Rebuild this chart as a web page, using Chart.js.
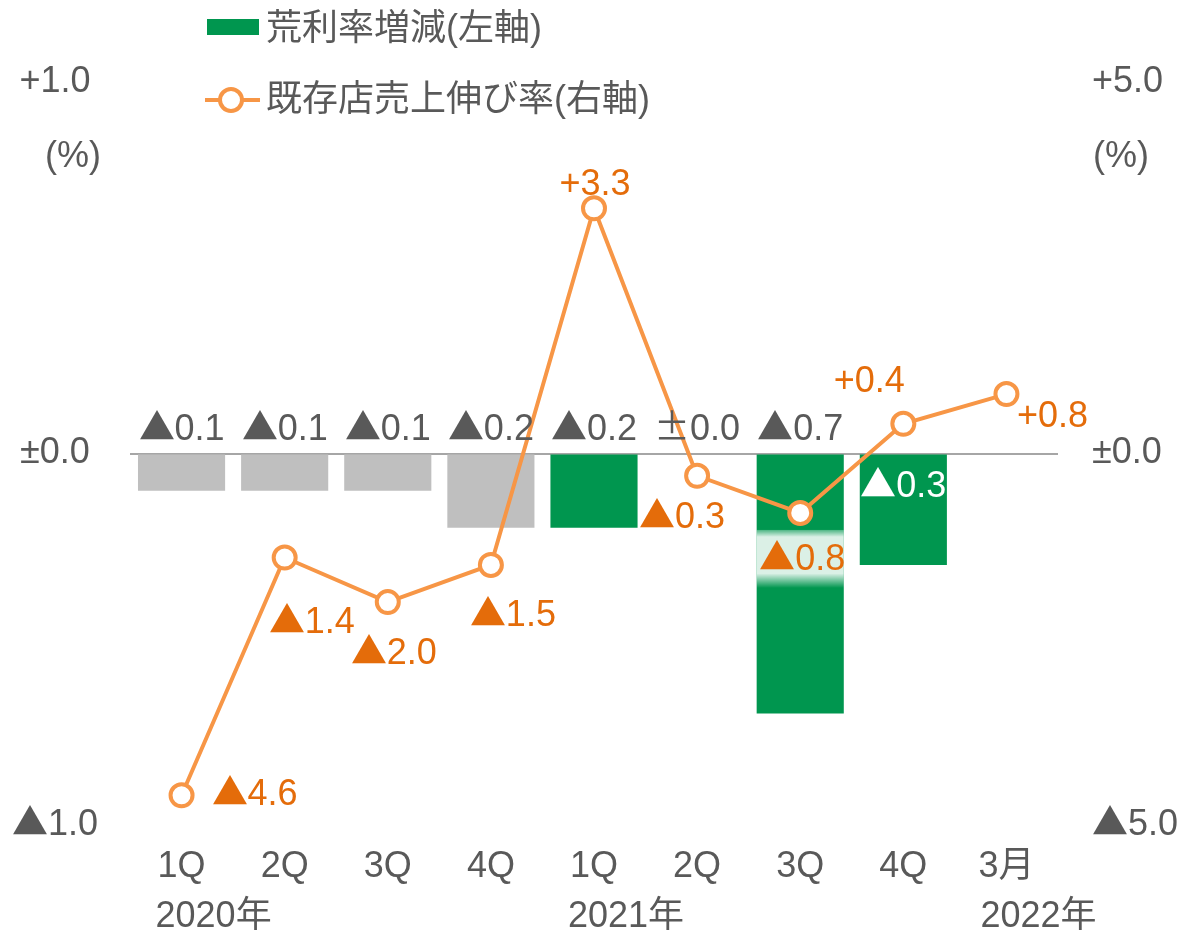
<!DOCTYPE html>
<html>
<head>
<meta charset="utf-8">
<script src="https://cdn.jsdelivr.net/npm/chart.js@4.4.0/dist/chart.umd.min.js"></script>
<style>
  /* full-width triangle from the CJK font, everything else from Liberation Sans */
  @font-face {
    font-family: "TriMark";
    src: local("Noto Sans CJK JP"), local("Noto Sans CJK JP Regular"), local("NotoSansCJKjp-Regular");
    unicode-range: U+25B2;
  }
  /* data labels also use the wide CJK plus-minus sign */
  @font-face {
    font-family: "WideMark";
    src: local("Noto Sans CJK JP"), local("Noto Sans CJK JP Regular"), local("NotoSansCJKjp-Regular");
    unicode-range: U+00B1, U+25B2;
  }
  html, body { margin: 0; padding: 0; background: #fff; }
  canvas { display: block; }
</style>
</head>
<body>
<canvas id="chart" width="1183" height="934"></canvas>
<script>
const categories = ["1Q", "2Q", "3Q", "4Q", "1Q", "2Q", "3Q", "4Q", "3月"];
const yearLabels = ["2020年", "", "", "", "2021年", "", "", "", "2022年"];
const marginChange = [-0.1, -0.1, -0.1, -0.2, -0.2, 0.0, -0.7, -0.3, null]; // 荒利率増減 (左軸)
const salesGrowth = [-4.6, -1.4, -2.0, -1.5, 3.3, -0.3, -0.8, 0.4, 0.8];    // 既存店売上伸び率 (右軸)
const leftRange = [-1, 1];
const rightRange = [-5, 5];

// label placement, kept apart from the values
const barLabelInside = [false, false, false, false, false, false, false, true, false];
const lineLabelOffset = [[73, 0], [27, 66], [6, 52], [22, 51], [1, -23], [-15, 42], [2, 47], [-34, -42], [46, 23]];
const haloIndex = 6;

const FONT = '"TriMark", "Liberation Sans", "Noto Sans CJK JP", sans-serif';
const LABEL_FONT = '"WideMark", "Liberation Sans", "Noto Sans CJK JP", sans-serif';
const GREEN = "#00964F";
const GRAY = "#BFBFBF";
const ORANGE = "#F79646";
const ORANGE_TEXT = "#E46C0A";
const TEXT = "#595959";

function fmt(v) {
  if (v < 0) return "▲" + Math.abs(v).toFixed(1);
  if (v > 0) return "+" + v.toFixed(1);
  return "±0.0";
}

const labelPlugin = {
  id: "labels",
  afterDatasetsDraw(chart) {
    const ctx = chart.ctx;
    const bars = chart.getDatasetMeta(1).data;
    const pts = chart.getDatasetMeta(0).data;
    const zeroY = chart.scales.y.getPixelForValue(0);
    ctx.save();
    ctx.font = "36px " + LABEL_FONT;
    ctx.textAlign = "center";
    ctx.textBaseline = "middle";

    marginChange.forEach((v, i) => {
      if (v === null) return;
      const b = bars[i];
      const inside = barLabelInside[i];
      ctx.fillStyle = inside ? "#ffffff" : TEXT;
      ctx.fillText(fmt(v), b.x, inside ? zeroY + 34 : zeroY - 23);
    });

    salesGrowth.forEach((v, i) => {
      const p = pts[i];
      const x = p.x + lineLabelOffset[i][0];
      const y = p.y + lineLabelOffset[i][1];
      if (i === haloIndex) {
        const b = bars[i];
        const top = y - 30, h = 58;
        const g = ctx.createLinearGradient(0, top, 0, top + h);
        g.addColorStop(0, "rgba(255,255,255,0.3)");
        g.addColorStop(0.12, "rgba(255,255,255,0.86)");
        g.addColorStop(0.75, "rgba(255,255,255,0.86)");
        g.addColorStop(1, "rgba(255,255,255,0)");
        ctx.fillStyle = g;
        ctx.fillRect(b.x - b.width / 2, top, b.width, h);
      }
      ctx.fillStyle = ORANGE_TEXT;
      ctx.fillText(fmt(v), x, y);
    });
    ctx.restore();
  },
  afterDraw(chart) {
    const ctx = chart.ctx;
    const xs = chart.scales.x;
    ctx.save();
    ctx.font = "36px " + FONT;
    ctx.textBaseline = "middle";
    ctx.fillStyle = TEXT;

    // year row under the quarter labels
    ctx.textAlign = "left";
    yearLabels.forEach((t, i) => {
      if (t) ctx.fillText(t, xs.getPixelForValue(i) - 26, 917);
    });

    // unit labels
    ctx.textAlign = "center";
    ctx.fillText("(%)", 73, 157);
    ctx.textAlign = "left";
    ctx.fillText("(%)", 1093, 157);

    // legend
    ctx.fillStyle = GREEN;
    ctx.fillRect(207, 19, 52, 16);
    ctx.fillStyle = TEXT;
    ctx.fillText("荒利率増減(左軸)", 266, 30);
    ctx.strokeStyle = ORANGE;
    ctx.lineWidth = 4;
    ctx.beginPath();
    ctx.moveTo(205, 100);
    ctx.lineTo(260, 100);
    ctx.stroke();
    ctx.beginPath();
    ctx.arc(231, 100, 11, 0, Math.PI * 2);
    ctx.fillStyle = "#ffffff";
    ctx.fill();
    ctx.stroke();
    ctx.fillStyle = TEXT;
    ctx.fillText("既存店売上伸び率(右軸)", 266, 101);
    ctx.restore();
  }
};

function build() {
  new Chart(document.getElementById("chart"), {
    data: {
      labels: categories,
      datasets: [
        {
          type: "line",
          label: "既存店売上伸び率(右軸)",
          data: salesGrowth,
          yAxisID: "y1",
          order: 0,
          borderColor: ORANGE,
          borderWidth: 4,
          tension: 0,
          pointRadius: 11,
          pointBorderWidth: 4,
          pointBackgroundColor: "#ffffff",
          pointBorderColor: ORANGE
        },
        {
          type: "bar",
          label: "荒利率増減(左軸)",
          data: marginChange,
          yAxisID: "y",
          order: 1,
          backgroundColor: marginChange.map((_, i) => (i < 4 ? GRAY : GREEN)),
          categoryPercentage: 1,
          barPercentage: 0.845
        }
      ]
    },
    options: {
      responsive: false,
      animation: false,
      layout: { padding: { top: 82, left: 0, right: 0, bottom: 0 } },
      plugins: {
        legend: { display: false },
        tooltip: { enabled: false }
      },
      scales: {
        x: {
          offset: true,
          grid: { display: false, drawTicks: false },
          border: { display: false },
          ticks: {
            autoSkip: false,
            maxRotation: 0,
            padding: 20,
            color: TEXT,
            font: { size: 36, family: FONT }
          },
          afterFit(s) { s.height = 109; }
        },
        y: {
          position: "left",
          min: leftRange[0],
          max: leftRange[1],
          grid: {
            color: (c) => (c.tick.value === 0 ? "#A6A6A6" : "rgba(0,0,0,0)"),
            lineWidth: 2,
            drawTicks: false
          },
          border: { display: false },
          ticks: {
            stepSize: 1,
            crossAlign: "center",
            padding: 32,
            color: TEXT,
            font: { size: 36, family: FONT },
            callback: (v) => fmt(v)
          },
          afterFit(s) { s.width = 130; }
        },
        y1: {
          position: "right",
          min: rightRange[0],
          max: rightRange[1],
          grid: { display: false, drawTicks: false },
          border: { display: false },
          ticks: {
            stepSize: 5,
            crossAlign: "near",
            padding: 34,
            color: TEXT,
            font: { size: 36, family: FONT },
            callback: (v) => fmt(v)
          },
          afterFit(s) { s.width = 125; }
        }
      }
    },
    plugins: [labelPlugin]
  });
}

Promise.all([
  document.fonts.load('36px "TriMark"', "▲"),
  document.fonts.load('36px "WideMark"', "±▲")
]).then(build, build);
</script>
</body>
</html>
